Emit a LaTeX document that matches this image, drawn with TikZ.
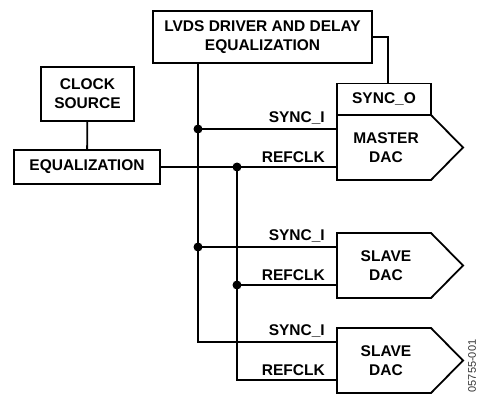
\documentclass[tikz,border=0pt]{standalone}
\usepackage{fontspec}
\setmainfont{Liberation Sans}
\usepackage{tikz}
\usetikzlibrary{positioning, calc}

\newcommand{\lbl}{\bfseries\fontsize{15.5}{19}\selectfont}

\tikzset{
  blk/.style={draw, line width=1.8pt, font=\lbl, align=center, inner sep=0pt},
  wire/.style={line width=1.8pt},
  pin/.style={font=\lbl, anchor=south east, inner sep=0pt},
  dot/.style={circle, fill, inner sep=0pt, minimum size=9pt},
}

\begin{document}
\begin{tikzpicture}[x=1pt, y=-1pt]
  \useasboundingbox (0,0) rectangle (478,393);

  % --- Blocks ---
  \node[blk, minimum width=219pt, minimum height=52pt] (lvds) at (262.5,37)
    {LVDS DRIVER AND DELAY\\EQUALIZATION};
  \node[blk, minimum width=93pt, minimum height=54pt] (clock) at (87.5,94)
    {CLOCK\\SOURCE};
  \node[blk, minimum width=146pt, minimum height=34pt] (equal) at (87,167)
    {EQUALIZATION};
  \node[blk, minimum width=94pt, minimum height=31pt] (synco) at (384,99)
    {SYNC\_O};

  % --- DACs (pentagon outlines) ---
  \foreach \n/\y/\t in {master/115/MASTER, slave1/233/SLAVE, slave2/328/SLAVE}{
    \draw[wire, line join=miter] (337,\y) -- ++(94,0) -- ++(32,32.5)
      -- ++(-32,32.5) -- ++(-94,0) -- cycle;
    \node[font=\lbl, align=center] (\n) at (386,{\y+33}) {\t\\DAC};
    \coordinate (\n-s) at (337,{\y+14});
    \coordinate (\n-r) at (337,{\y+52});
  }

  % --- Buses ---
  \coordinate (sb) at (198,0);
  \coordinate (rb) at (237,0);

  \draw[wire] (clock) -- (equal);
  \draw[wire] (lvds.east) -| ($(synco.north)+(4,0)$);
  \draw[wire] (lvds.south -| sb) |- (slave2-s);
  \draw[wire] (sb |- master-s) -- (master-s);
  \draw[wire] (sb |- slave1-s) -- (slave1-s);
  \draw[wire] (equal.east) -- (master-r);
  \draw[wire] (rb |- master-r) |- (slave2-r);
  \draw[wire] (rb |- slave1-r) -- (slave1-r);

  % --- Junction dots ---
  \node[dot] (j1) at (sb |- master-s) {};
  \node[dot] (j2) at (rb |- master-r) {};
  \node[dot] (j3) at (sb |- slave1-s) {};
  \node[dot] (j4) at (rb |- slave1-r) {};

  % --- Pin labels ---
  \foreach \n in {master, slave1, slave2}{
    \node[pin] (\n-ls) at ($(\n-s)+(-12,-4)$) {SYNC\_I};
    \node[pin] (\n-lr) at ($(\n-r)+(-12,-4)$) {REFCLK};
  }

  % --- Figure code ---
  \node[rotate=90, font=\fontsize{11}{13}\selectfont, text=black!80] (fig)
    at (472,366) {05755-001};

\end{tikzpicture}
\end{document}
